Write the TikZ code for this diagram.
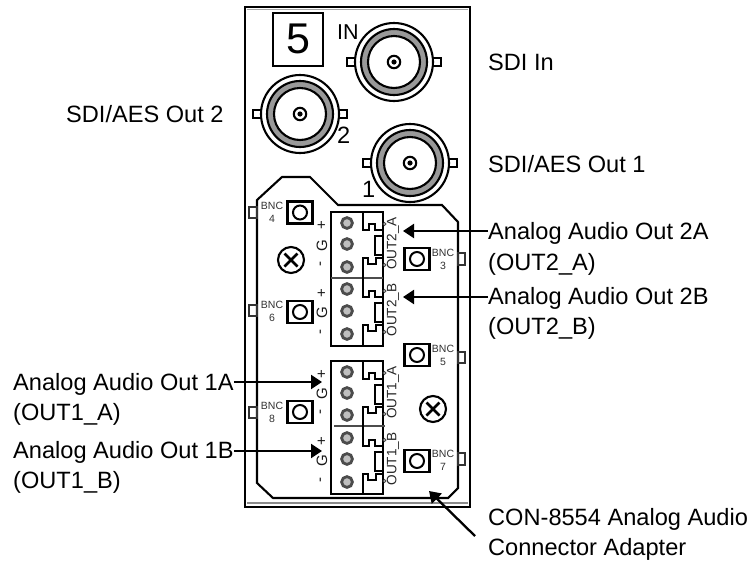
\documentclass[tikz,border=0pt]{standalone}
\usepackage{fontspec}
\setmainfont{Liberation Sans}
\usetikzlibrary{arrows.meta}
\tikzset{
  lbl/.style={anchor=base west,inner sep=0pt,text=black,font=\fontsize{23.6}{26}\selectfont},
  tiny/.style={inner sep=0pt,text=black!80,font=\fontsize{10.5}{12}\selectfont},
  pin/.style={inner sep=0pt,rotate=90,text=black!90,font=\fontsize{15}{15}\selectfont},
  outlbl/.style={inner sep=0pt,rotate=90,text=black!85,font=\fontsize{13.6}{14}\selectfont},
  lw/.style={line width=2.1pt,line join=miter},
  arr/.style={line width=2.3pt,-{Triangle[length=11pt,width=14pt]}},
}
\newcommand{\bncround}[2]{%
  \begin{scope}[shift={(#1,#2)}]
    \draw[lw,fill=white] (-47,-4) rectangle (-39,4);
    \draw[lw,fill=white] (39,-4) rectangle (47,4);
    \draw[lw,fill=white] (0,0) circle (39);
    \draw[lw,fill=black!40] (0,0) circle (33);
    \draw[lw,fill=white] (0,0) circle (26);
    \draw[lw,fill=white] (0,0) circle (6.2);
    \fill (0,0) circle (2.6);
  \end{scope}}
\newcommand{\bncsq}[2]{%
  \begin{scope}[shift={(#1,#2)}]
    \draw[lw,fill=white,line width=2.6pt] (-12.7,-11) rectangle (12.7,11);
    \draw[lw,line width=2pt] (0,0) circle (7);
  \end{scope}}
\newcommand{\xscrew}[2]{%
  \begin{scope}[shift={(#1,#2)}]
    \draw[lw] (0,0) circle (13);
    \draw[lw,line width=2.6pt] (-6.5,-6.5) -- (6.5,6.5) (-6.5,6.5) -- (6.5,-6.5);
  \end{scope}}
\newcommand{\screw}[1]{%
  \draw[line width=2.8pt,draw=black!70,fill=black!25] (347,#1) circle (5.4);}
\newcommand{\halfblock}[1]{%
  \begin{scope}[yshift=#1]
    \draw[lw] (363,212) -- (363,230) -- (369,230) -- (369,224) -- (375,224) -- (375,230) -- (383,230);
    \draw[lw] (375,236) rectangle (383,255);
    \draw[lw] (363,278) -- (363,258) -- (368,258) -- (368,264) -- (376,264) -- (376,258) -- (383,258);
    \draw[black!70,line width=1pt] (384.5,224) circle (1.5) (384.5,265) circle (1.5);
  \end{scope}}
\begin{document}
\begin{tikzpicture}[x=1pt,y=-1pt]
\useasboundingbox (0,0) rectangle (752,563);
\fill[white] (0,0) rectangle (752,563);
% panel
\draw[line width=2.6pt] (245,7) rectangle (470,507);
\draw[black!35,line width=1pt] (247,9.5) -- (468,9.5);
\draw[black!45,line width=1.2pt] (247,503) -- (468,503);
% number box
\draw[lw] (273,13) rectangle (323,66);
\node[inner sep=0pt,font=\fontsize{43}{43}\selectfont] (five) at (298,39) {5};
\node[lbl,font=\fontsize{21.5}{22}\selectfont] (inl) at (337,39) {IN};
% round BNC
\bncround{394}{62}
\bncround{300}{114}
\bncround{410}{163}
\node[lbl] (two) at (337,143) {2};
\node[lbl] (one) at (362,197) {1};
% adapter
\draw[lw] (257,483) -- (273,498) -- (448,498) -- (458,488) -- (458,222) -- (442,205) -- (338,205) -- (310,177) -- (282,177) -- (257,200) -- cycle;
\foreach \a/\b in {207/218,305/316,407/418}{\draw[line width=1.4pt,draw=black!80] (249,\a) rectangle (257,\b);}
\foreach \a/\b in {253/265,352/363,453/465}{\draw[line width=1.4pt,draw=black!80] (458,\a) rectangle (465,\b);}
% square BNC
\foreach \x/\y in {300/212.5,417/259,300/312,417/355,300/412,417/461}{\bncsq{\x}{\y}}
\foreach \n/\x/\a in {bfour/272/206,bthree/443/253,bsix/272/305,bfive/443/349,beight/272/406,bseven/443/454}{
  \node[tiny] (\n) at (\x,\a) {BNC};
}
\node[tiny] (nfour) at (272,219) {4};
\node[tiny] (nthree) at (443,266) {3};
\node[tiny] (nsix) at (272,318) {6};
\node[tiny] (nfive) at (443,362) {5};
\node[tiny] (neight) at (272,419) {8};
\node[tiny] (nseven) at (443,467) {7};
\xscrew{291}{260}
\xscrew{433}{409}
% terminal blocks
\draw[lw] (331,212) rectangle (383,346);
\draw[black!70,line width=1.2pt] (331,278) -- (383,278);
\draw[lw] (331,361) rectangle (383,494);
\draw[black!70,line width=1.2pt] (334,426) -- (385,426);
\halfblock{0pt}
\draw[lw] (363,278) -- (363,297) -- (369,297) -- (369,291) -- (375,291) -- (375,297) -- (383,297);
\draw[lw] (375,303) rectangle (383,322);
\draw[lw] (363,346) -- (363,325) -- (368,325) -- (368,331) -- (376,331) -- (376,325) -- (383,325);
\draw[black!70,line width=1pt] (384.5,291) circle (1.5) (384.5,332) circle (1.5);
\halfblock{-149pt}
\draw[lw] (363,427) -- (363,446) -- (369,446) -- (369,440) -- (375,440) -- (375,446) -- (383,446);
\draw[lw] (375,452) rectangle (383,471);
\draw[lw] (363,494) -- (363,474) -- (368,474) -- (368,480) -- (376,480) -- (376,474) -- (383,474);
\draw[black!70,line width=1pt] (384.5,440) circle (1.5) (384.5,481) circle (1.5);
\foreach \y in {223,244,267,289,311,334,372,393,415,438,459,482}{\screw{\y}}
\foreach \n/\y/\t in {pa/225/+,pb/246/G,pc/264/-,pd/293/+,pe/313/G,pf/332/-,pg/374/+,ph/394/G,pi/412/-,pj/441/+,pk/461/G,pl/480/-}{
  \node[pin] (\n) at (322,\y) {\t};
}
\node[outlbl] (o2a) at (393,243.5) {OUT2\_A};
\node[outlbl] (o2b) at (393,310) {OUT2\_B};
\node[outlbl] (o1a) at (393,392.5) {OUT1\_A};
\node[outlbl] (o1b) at (393,459) {OUT1\_B};
% labels
\node[lbl] (sdiin) at (488,70) {SDI In};
\node[lbl] (sdi2) at (66,122) {SDI/AES Out 2};
\node[lbl] (sdi1) at (488,172) {SDI/AES Out 1};
\node[lbl] (a2a) at (488,239) {Analog Audio Out 2A};
\node[lbl] (a2an) at (488,270) {(OUT2\_A)};
\node[lbl] (a2b) at (488,304) {Analog Audio Out 2B};
\node[lbl] (a2bn) at (488,334) {(OUT2\_B)};
\node[lbl] (a1a) at (13,390) {Analog Audio Out 1A};
\node[lbl] (a1an) at (13,420) {(OUT1\_A)};
\node[lbl] (a1b) at (13,458) {Analog Audio Out 1B};
\node[lbl] (a1bn) at (13,488) {(OUT1\_B)};
\node[lbl] (con) at (488,525) {CON-8554 Analog Audio};
\node[lbl] (conb) at (488,555) {Connector Adapter};
% arrows
\coordinate (t2a) at (403,231);
\coordinate (t2b) at (403,297);
\coordinate (t1a) at (322,382);
\coordinate (t1b) at (322,451);
\coordinate (tc) at (429,491);
\coordinate (sc) at (475,536);
\draw[arr] (a2a.west |- t2a) -- (t2a);
\draw[arr] (a2b.west |- t2b) -- (t2b);
\draw[arr] (a1a.east |- t1a) -- (t1a);
\draw[arr] (a1b.east |- t1b) -- (t1b);
\draw[arr] (sc) -- (tc);
\end{tikzpicture}
\end{document}
